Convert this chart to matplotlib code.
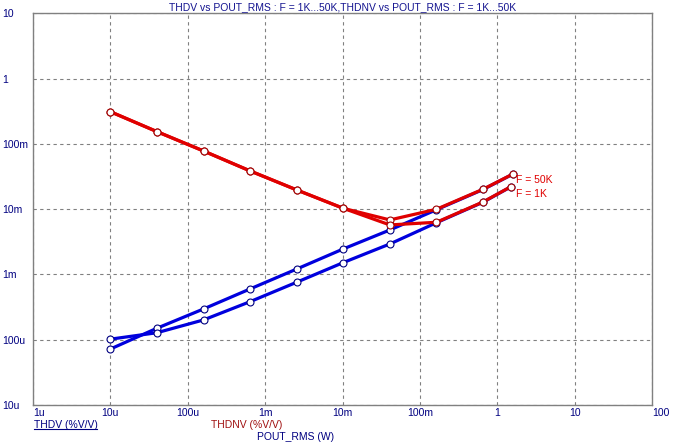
import numpy as np
import matplotlib
matplotlib.use('Agg')
import matplotlib.pyplot as plt
from matplotlib.lines import Line2D

# Данные (Pout в Вт, THD в В/В)
pout = [10e-6, 40e-6, 160e-6, 640e-6, 2.56e-3, 10.24e-3, 40.96e-3, 163.84e-3, 655.36e-3]
pout_50k = pout + [1.6]
pout_1k = pout + [1.5]

thdv_50k = [7.2e-5, 1.50e-4, 2.96e-4, 6.0e-4, 1.21e-3, 2.46e-3, 4.80e-3, 9.8e-3, 0.0200, 0.0345]
thdv_1k = [1.02e-4, 1.28e-4, 2.01e-4, 3.83e-4, 7.6e-4, 1.52e-3, 2.93e-3, 6.2e-3, 0.0128, 0.0220]
thdnv_50k = [0.311, 0.154, 0.0778, 0.0385, 0.0197, 0.0103, 0.00684, 0.00996, 0.0202, 0.0346]
thdnv_1k = [0.311, 0.154, 0.0778, 0.0385, 0.0197, 0.0103, 0.00573, 0.00630, 0.0129, 0.0221]

xticks = [1e-6, 1e-5, 1e-4, 1e-3, 1e-2, 1e-1, 1, 10, 100]
xlabels = ['1u', '10u', '100u', '1m', '10m', '100m', '1', '10', '100']
yticks = [1e-5, 1e-4, 1e-3, 1e-2, 1e-1, 1, 10]
ylabels = ['10u', '100u', '1m', '10m', '100m', '1', '10']

# Стиль
plt.rcParams['font.family'] = ['Liberation Sans', 'DejaVu Sans']
plt.rcParams['font.size'] = 7.5
navy = '#000080'
blue = '#0000dd'
red = '#e00000'
grey = '#808080'

W, H = 677, 448
fig = plt.figure(figsize=(W / 100, H / 100), dpi=100)
ax = fig.add_axes([33 / W, 1 - 405 / H, (652 - 33) / W, (405 - 13.3) / H])

mk = dict(marker='o', markersize=5, markerfacecolor='white', markeredgewidth=0.8)
ax.plot(pout_50k, thdv_50k, color=blue, lw=2.3, markeredgecolor=navy, **mk)
ax.plot(pout_1k, thdv_1k, color=blue, lw=2.3, markeredgecolor=navy, **mk)
ax.plot(pout_50k, thdnv_50k, color=red, lw=2.3, markeredgecolor='#a00000', **mk)
ax.plot(pout_1k, thdnv_1k, color=red, lw=2.3, markeredgecolor='#a00000', **mk)

ax.set_xscale('log')
ax.set_yscale('log')
ax.set_xlim(1e-6, 100)
ax.set_ylim(1e-5, 10)
ax.minorticks_off()
ax.set_xticks(xticks, xlabels)
ax.set_yticks(yticks, ylabels)
ax.tick_params(axis='both', length=0, colors=navy, labelsize=7.5)
ax.tick_params(axis='y', pad=22.3)
ax.tick_params(axis='x', pad=2)
for lab in ax.get_yticklabels():
    lab.set_horizontalalignment('left')
xl = ax.get_xticklabels()
xl[0].set_horizontalalignment('left')
xl[-1].set_horizontalalignment('left')

ax.grid(True, which='major', ls=(0, (3, 3)), color=grey, lw=0.8)
for s in ax.spines.values():
    s.set_color(grey)
    s.set_linewidth(1)

ax.set_title('THDV vs POUT_RMS : F = 1K...50K,THDNV vs POUT_RMS : F = 1K...50K',
             color='#141490', fontsize=7.5, pad=2)

# Подписи кривых
ax.text(1.75, thdnv_50k[-1] * 0.8, 'F = 50K', color=red, fontsize=7.5, va='center')
ax.text(1.75, thdnv_1k[-1] * 0.78, 'F = 1K', color=red, fontsize=7.5, va='center')

# Легенда внизу
fig.text(34 / W, 1 - 424.5 / H, 'THDV (%V/V)', color=navy, va='center', ha='left')
fig.add_artist(Line2D([34 / W, 97 / W], [1 - 429 / H, 1 - 429 / H], color=navy, lw=0.8))
fig.text(211 / W, 1 - 424.5 / H, 'THDNV (%V/V)', color='#a01010', va='center', ha='left')
fig.text(257 / W, 1 - 437 / H, 'POUT_RMS (W)', color=navy, va='center', ha='left')

fig.savefig('out.png', dpi=100, facecolor='white')
